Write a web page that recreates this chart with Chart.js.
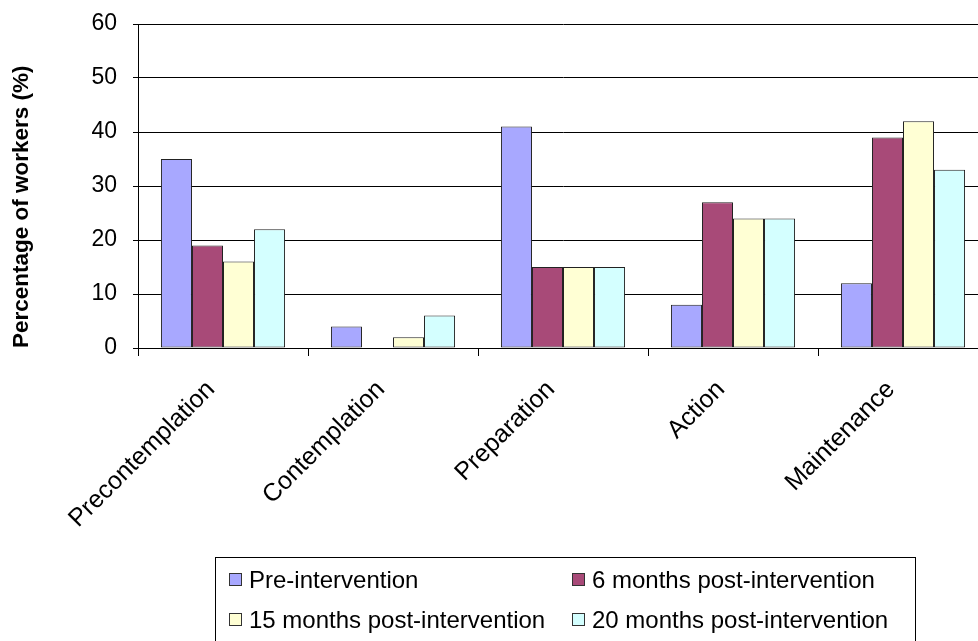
<!DOCTYPE html>
<html>
<head>
<meta charset="utf-8">
<title>Stages of change</title>
<script src="https://cdn.jsdelivr.net/npm/chart.js@4/dist/chart.umd.min.js"></script>
<style>
  html, body { margin: 0; padding: 0; background: #fff; overflow: hidden; }
  #wrap { position: relative; width: 990px; height: 641px; }
</style>
</head>
<body>
<div id="wrap"><canvas id="chart"></canvas></div>
<script>
// Stage of change categories
const stages = ['Precontemplation', 'Contemplation', 'Preparation', 'Action', 'Maintenance'];

// Percentage of workers in each stage, per survey wave
const preIntervention = [35, 4, 41, 8, 12];
const sixMonths       = [19, 0, 15, 27, 39];
const fifteenMonths   = [16, 2, 15, 24, 42];
const twentyMonths    = [22, 6, 15, 24, 33];

const seriesNames = [
  'Pre-intervention',
  '6 months post-intervention',
  '15 months post-intervention',
  '20 months post-intervention'
];

const yTicks = [0, 10, 20, 30, 40, 50, 60];

const fillColors = ['#A8A8FF', '#A84A78', '#FFFFD4', '#D4FFFF'];
const FONT = 'Liberation Sans, Arial, Helvetica, sans-serif';

// Boxed two-column legend under the plot
const boxedLegend = {
  id: 'boxedLegend',
  afterDraw(chart) {
    const ctx = chart.ctx;
    const boxL = 215.5, boxT = 557.5, boxW = 700, boxH = 100;
    ctx.save();
    ctx.strokeStyle = '#000';
    ctx.lineWidth = 1;
    ctx.strokeRect(boxL, boxT, boxW, boxH);
    const colX = [229, 572];
    const rowY = [580, 620];
    ctx.font = '24px ' + FONT;
    ctx.textBaseline = 'middle';
    chart.data.datasets.forEach((ds, i) => {
      const x = colX[i % 2];
      const y = rowY[Math.floor(i / 2)];
      ctx.fillStyle = ds.backgroundColor;
      ctx.fillRect(x + 0.5, y - 6.5, 12, 12);
      ctx.strokeStyle = '#333';
      ctx.strokeRect(x + 0.5, y - 6.5, 12, 12);
      ctx.fillStyle = '#000';
      ctx.fillText(ds.label, x + 20, y + 1);
    });
    ctx.restore();
  }
};

const seriesValues = [preIntervention, sixMonths, fifteenMonths, twentyMonths];

new Chart(document.getElementById('chart'), {
  type: 'bar',
  data: {
    labels: stages,
    datasets: seriesValues.map((vals, i) => ({
      label: seriesNames[i],
      data: vals,
      backgroundColor: fillColors[i],
      borderColor: '#222',
      borderWidth: 1,
      borderSkipped: false,
      barPercentage: 1.0,
      categoryPercentage: 0.73
    }))
  },
  options: {
    responsive: true,
    maintainAspectRatio: false,
    animation: false,
    layout: { padding: { top: 24, right: 2, bottom: 0, left: 0 } },
    plugins: {
      legend: { display: false },
      tooltip: { enabled: false }
    },
    scales: {
      x: {
        afterFit(scale) { scale.height = 293; },
        grid: {
          display: true,
          drawOnChartArea: false,
          drawTicks: true,
          offset: true,
          tickLength: 8,
          color: '#000'
        },
        border: { display: true, color: '#000' },
        ticks: {
          color: '#000',
          font: { family: FONT, size: 25 },
          minRotation: 45,
          maxRotation: 45,
          padding: 19,
          labelOffset: -12,
          autoSkip: false
        }
      },
      y: {
        min: 0,
        max: 60,
        afterFit(scale) {
          scale.width = 138;
          // the outer layout padding already leaves room for the end labels
          scale.paddingTop = 0;
          scale.paddingBottom = 0;
        },
        afterBuildTicks(scale) { scale.ticks = yTicks.map(v => ({ value: v })); },
        grid: {
          color: '#000',
          lineWidth: 1,
          tickLength: 5,
          drawTicks: true
        },
        border: { display: true, color: '#000' },
        ticks: {
          color: '#000',
          font: { family: FONT, size: 23 },
          padding: 16
        },
        title: {
          display: true,
          text: 'Percentage of workers (%)',
          align: 'start',
          color: '#000',
          font: { family: FONT, size: 22.5, weight: 'bold' },
          padding: { top: 8, bottom: 0 }
        }
      }
    }
  },
  plugins: [boxedLegend]
});
</script>
</body>
</html>
